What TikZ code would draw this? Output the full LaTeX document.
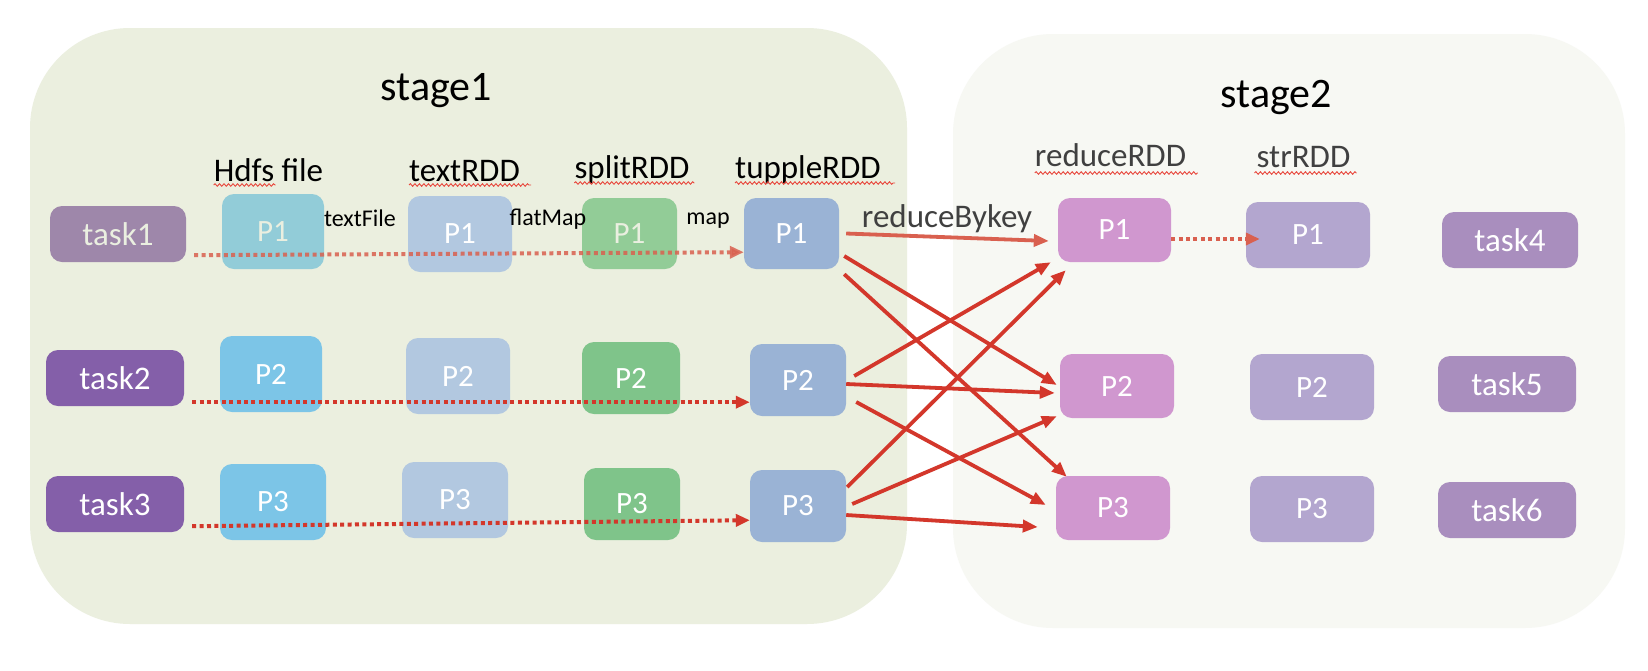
\documentclass[tikz,border=0pt]{standalone}
\usepackage{fontspec}
\setmainfont{Carlito}
\usetikzlibrary{arrows.meta,decorations.pathmorphing}
\definecolor{stgA}{HTML}{EBEFDF}
\definecolor{stgB}{HTML}{F7F8F3}
\definecolor{taskfade}{HTML}{9E87AA}
\definecolor{taskdark}{HTML}{845FA9}
\definecolor{tasklight}{HTML}{A98EBE}
\definecolor{hdfsfade}{HTML}{92CCD8}
\definecolor{hdfs}{HTML}{7CC5E7}
\definecolor{textrdd}{HTML}{B2C8E0}
\definecolor{splitfade}{HTML}{92CC97}
\definecolor{split}{HTML}{7FC48A}
\definecolor{tupple}{HTML}{9AB3D5}
\definecolor{reduce}{HTML}{D097CF}
\definecolor{strrdd}{HTML}{B3A6CF}
\definecolor{arrred}{HTML}{D3372B}
\definecolor{arrsalmon}{HTML}{D9604F}
\definecolor{fadetxt}{HTML}{EAEFE0}
\definecolor{graytxt}{HTML}{404040}
\definecolor{squig}{HTML}{E8473C}
\begin{document}
\begin{tikzpicture}[x=1pt,y=-1pt,
  sz/.style 2 args={minimum width=#1pt, minimum height=#2pt},
  stage/.style={rounded corners=100pt, inner sep=0pt},
  box/.style={rounded corners=12pt, inner sep=0pt, text=white, font=\fontsize{31}{31}\selectfont},
  taskbox/.style={box, font=\fontsize{33}{33}\selectfont},
  title/.style={anchor=base, inner sep=0pt, font=\fontsize{42}{42}\selectfont},
  collabel/.style={anchor=base, inner sep=0pt, font=\fontsize{33}{33}\selectfont},
  oplabel/.style={anchor=base, inner sep=0pt, font=\fontsize{24}{24}\selectfont},
  flow/.style={draw=arrred, line width=4pt, dash pattern=on 4pt off 3.4pt, -{Triangle[length=14pt,width=12pt]}},
  shuffle/.style={draw=arrred, line width=3.8pt, -{Triangle[length=15pt,width=12pt]}},
  squiggle/.style={draw=squig, line width=0.9pt, decorate, decoration={snake, segment length=4.5pt, amplitude=1.3pt}}
]
\useasboundingbox[fill=white] (0,0) rectangle (1648,670);
% stages
\node[stage, fill=stgA, sz={877}{596}] (st1) at (468.5,326) {};
\node[stage, fill=stgB, sz={672}{594}] (st2) at (1289,331) {};
\node[title] (t1) at (436.5,100) {stage1};
\node[title] (t2) at (1276.5,107) {stage2};
% column labels
\node[collabel] (lh) at (268.5,181) {Hdfs file};
\node[collabel] (lt) at (464.5,181) {textRDD};
\node[collabel] (ls) at (632,178) {splitRDD};
\node[collabel] (lu) at (808,178) {tuppleRDD};
\node[collabel, text=graytxt] (lr) at (1110.5,166) {reduceRDD};
\node[collabel, text=graytxt] (lstr) at (1303.5,167) {strRDD};
\draw[squiggle] (lh.base west) ++(0,4) -- ++(62,0);
\draw[squiggle] (lt.base west) ++(0,4) -- ++(122,0);
\draw[squiggle] (ls.base west) ++(0,5) -- ++(120,0);
\draw[squiggle] (lu.base west) ++(0,5) -- ++(160,0);
\draw[squiggle] (lr.base west) ++(0,7) -- ++(163,0);
\draw[squiggle] (lstr.base west) ++(-2,6) -- ++(102,0);
% tasks stage1
\node[taskbox, fill=taskfade, text=fadetxt, sz={136}{56}] (task1) at (118,234) {task1};
\node[taskbox, fill=taskdark, sz={138}{56}] (task2) at (115,378) {task2};
\node[taskbox, fill=taskdark, sz={138}{56}] (task3) at (115,504) {task3};
% Hdfs
\node[box, fill=hdfsfade, text=fadetxt, sz={102}{75}] (H1) at (273,231.5) {P1};
\node[box, fill=hdfs, sz={102}{76}] (H2) at (271,374) {P2};
\node[box, fill=hdfs, sz={106}{76}] (H3) at (273,502) {P3};
% textRDD
\node[box, fill=textrdd, sz={104}{76}] (T1) at (460,234) {P1};
\node[box, fill=textrdd, sz={104}{76}] (T2) at (458,376) {P2};
\node[box, fill=textrdd, sz={106}{76}] (T3) at (455,500) {P3};
% splitRDD
\node[box, fill=splitfade, text=fadetxt, sz={95}{71}] (S1) at (629.5,233.5) {P1};
\node[box, fill=split, sz={98}{72}] (S2) at (631,378) {P2};
\node[box, fill=split, sz={96}{72}] (S3) at (632,504) {P3};
% tuppleRDD
\node[box, fill=tupple, sz={95}{71}] (U1) at (791.5,233.5) {P1};
\node[box, fill=tupple, sz={96}{72}] (U2) at (798,380) {P2};
\node[box, fill=tupple, sz={96}{72}] (U3) at (798,506) {P3};
% reduceRDD
\node[box, fill=reduce, sz={113}{64}] (R1) at (1114.5,230) {P1};
\node[box, fill=reduce, sz={114}{64}] (R2) at (1117,386) {P2};
\node[box, fill=reduce, sz={114}{64}] (R3) at (1113,508) {P3};
% strRDD
\node[box, fill=strrdd, sz={124}{66}] (Q1) at (1308,235) {P1};
\node[box, fill=strrdd, sz={124}{66}] (Q2) at (1312,387) {P2};
\node[box, fill=strrdd, sz={124}{66}] (Q3) at (1312,509) {P3};
% tasks stage2
\node[taskbox, fill=tasklight, sz={136}{56}] (task4) at (1510,240) {task4};
\node[taskbox, fill=tasklight, sz={138}{56}] (task5) at (1507,384) {task5};
\node[taskbox, fill=tasklight, sz={138}{56}] (task6) at (1507,510) {task6};
% operation labels
\node[oplabel] (opA) at (360,226) {textFile};
\node[oplabel] (opB) at (548,225) {flatMap};
\node[oplabel] (opC) at (708,224) {map};
\node[collabel, text=graytxt] (opD) at (947,227) {reduceBykey};
% narrow flows
\draw[flow, draw=arrsalmon, opacity=0.85] ([xshift=8pt,yshift=7pt]task1.south east) -- ([yshift=17pt]U1.south west);
\draw[flow] ([xshift=8pt,yshift=4pt]task2.south east) -- ([yshift=14pt]U2.south west);
\draw[flow] ([xshift=8pt,yshift=6pt]task3.south east) -- ([yshift=22pt]U3.south west);
\draw[flow, draw=arrsalmon] ([yshift=-9pt]R1.east) -- ([xshift=14pt,yshift=-4pt]Q1.west);
% shuffle
\draw[shuffle, draw=arrsalmon] ([xshift=7pt]U1.east) -- ([xshift=-9pt,yshift=-11pt]R1.west);
\draw[shuffle] ([xshift=5pt,yshift=-22.5pt]U1.east) -- ([xshift=-3pt,yshift=1pt]R2.west);
\draw[shuffle] ([xshift=5pt,yshift=-5pt]U1.south east) -- ([xshift=11pt,yshift=-1pt]R3.north west);
\draw[shuffle] ([xshift=8pt,yshift=4pt]U2.east) -- ([xshift=-7pt]R1.south west);
\draw[shuffle] ([yshift=-4pt]U2.east) -- ([xshift=-5pt,yshift=-7pt]R2.west);
\draw[shuffle] ([xshift=10pt,yshift=-22pt]U2.east) -- ([xshift=-10pt,yshift=3pt]R3.west);
\draw[shuffle] ([xshift=1pt,yshift=19pt]U3.east) -- ([xshift=8pt,yshift=-8pt]R1.south west);
\draw[shuffle] ([xshift=6pt,yshift=2pt]U3.east) -- ([xshift=-3pt,yshift=2pt]R2.south west);
\draw[shuffle] ([yshift=-9pt]U3.east) -- ([xshift=-18pt,yshift=-19pt]R3.west);
\end{tikzpicture}
\end{document}
